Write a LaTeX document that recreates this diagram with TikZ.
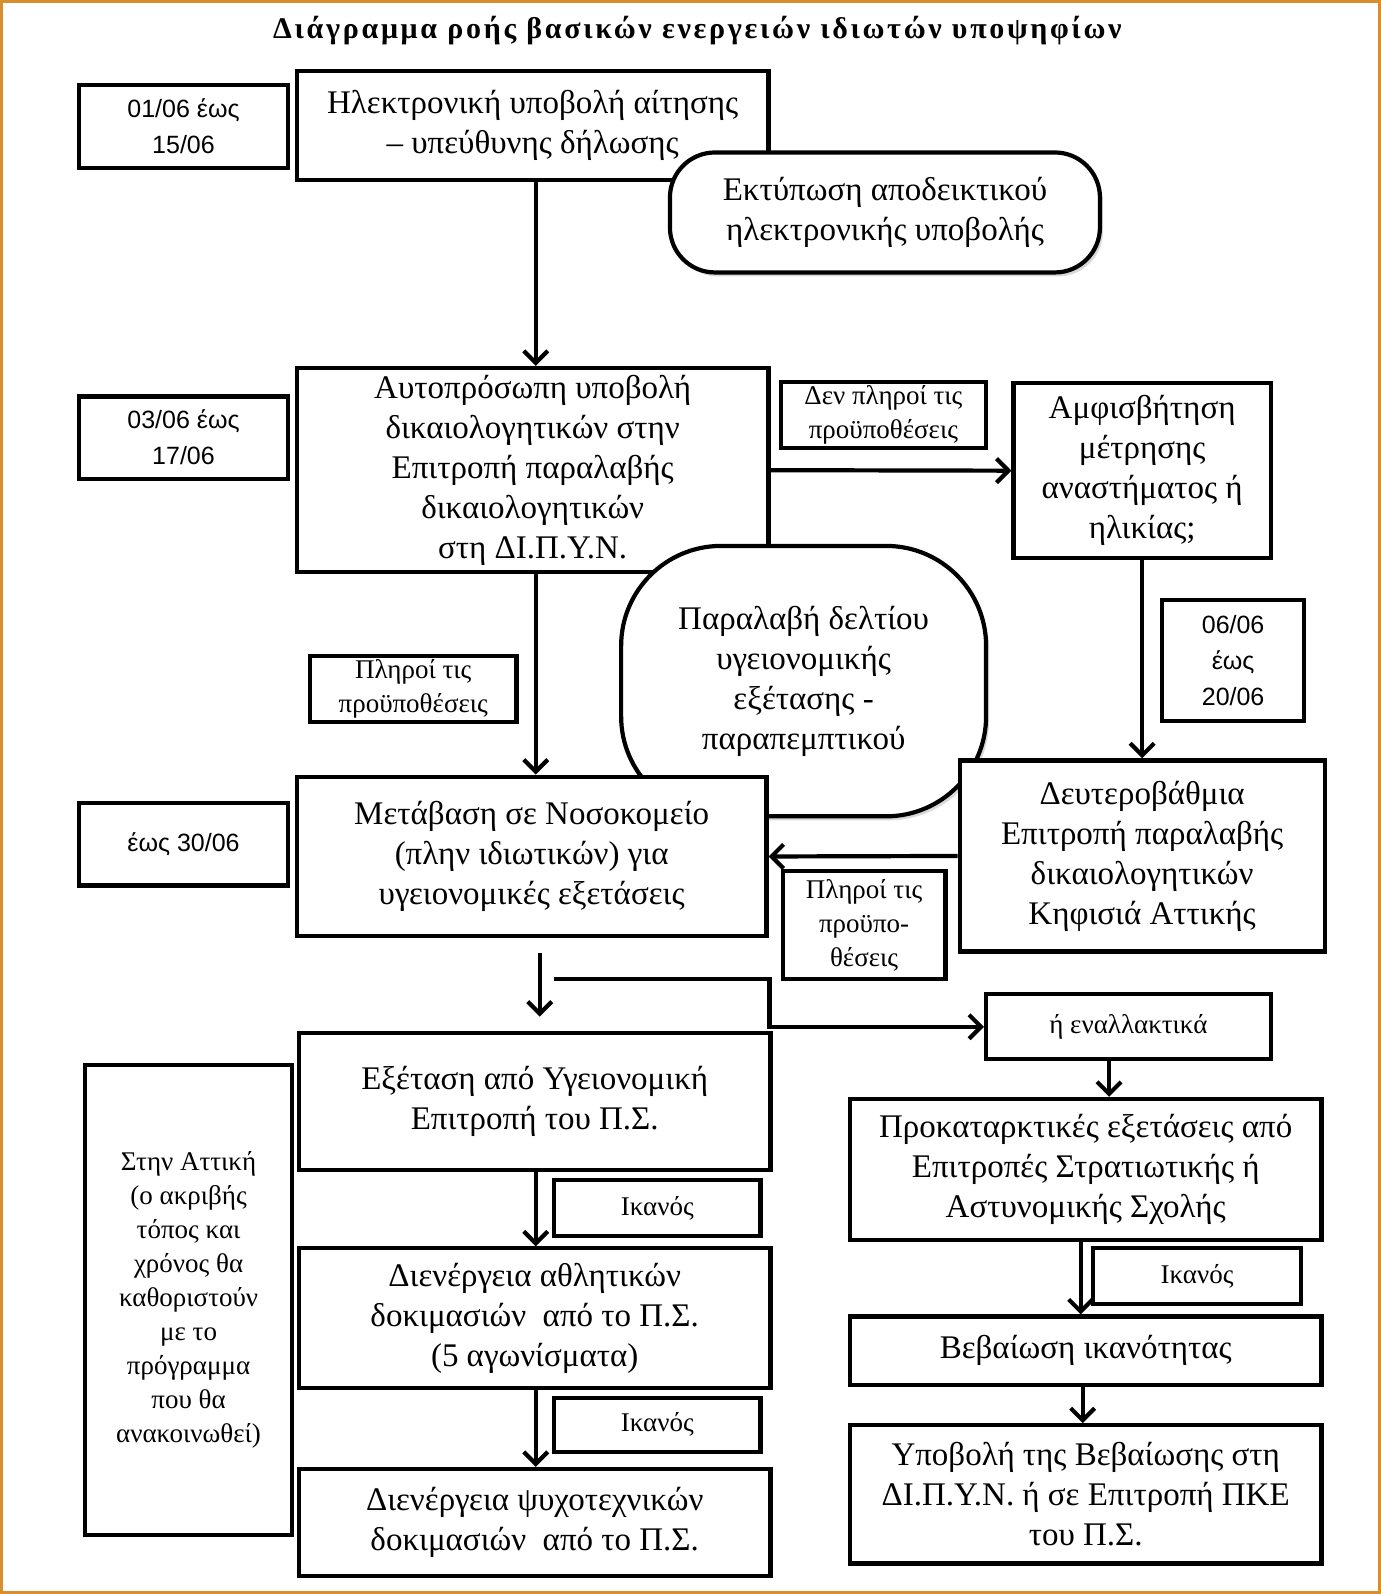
\documentclass[tikz,border=0pt]{standalone}
\usepackage{fontspec}
\setmainfont{Liberation Serif}
\newfontfamily\lsans{Liberation Sans}
\usetikzlibrary{arrows.meta,shadows}
\definecolor{frameor}{RGB}{216,142,44}
\newcommand\mainf{\fontsize{33}{40}\selectfont}
\newcommand\labf{\fontsize{27}{34}\selectfont}
\newcommand\datef{\lsans\fontsize{25}{36}\selectfont}
\newcommand\placebox[7]{%
  \pgfmathsetmacro\bw{(#5-#3)*1.0169}%
  \pgfmathsetmacro\bh{(#6-#4)*1.0169}%
  \node[#1, minimum width=\bw pt, minimum height=\bh pt] (#2) at ({(#3+#5)/2},{(#4+#6)/2}) {#7};}
\begin{document}
\begin{tikzpicture}[x=1.0169pt,y=-1.0169pt,
  bx/.style={draw, line width=4.2pt, fill=white, inner sep=0pt, align=center, font=\mainf},
  lb/.style={bx, font=\labf},
  dt/.style={bx, font=\datef},
  rbx/.style={bx, rounded corners=#1, drop shadow={shadow xshift=3pt,shadow yshift=-4pt,opacity=0.3}},
  arr/.style={line width=4.2pt, -{Straight Barb[length=12pt,width=24pt,line width=4.2pt]}},
  ln/.style={line width=4.2pt}]
\useasboundingbox (0,0) rectangle (1358,1568);
\draw[frameor, line width=3pt] (1.5,1.5) rectangle (1356.5,1566.5);

\node[font=\bfseries\fontsize{30}{34}\selectfont\addfontfeature{LetterSpace=9}] (title) at (686,30) {Διάγραμμα ροής βασικών ενεργειών ιδιωτών υποψηφίων};

% top row
\placebox{dt}{d1}{78}{84}{283}{165}{01/06 έως\\15/06}
\placebox{bx}{b1}{292}{70}{756}{177}{Ηλεκτρονική υποβολή αίτησης\\– υπεύθυνης δήλωσης}
\placebox{rbx=45pt}{r1}{659}{150}{1082}{268}{Εκτύπωση αποδεικτικού\\ηλεκτρονικής υποβολής}

% second row
\placebox{dt}{d2}{78}{390}{283}{471}{03/06 έως\\17/06}
\placebox{bx}{b2}{292}{362}{756}{563}{Αυτοπρόσωπη υποβολή\\δικαιολογητικών στην\\Επιτροπή παραλαβής\\δικαιολογητικών\\στη ΔΙ.Π.Υ.Ν.}
\placebox{lb}{l1}{768}{376}{970}{441}{Δεν πληροί τις\\προϋποθέσεις}
\placebox{bx}{b3}{997}{377}{1250}{549}{Αμφισβήτηση\\μέτρησης\\αναστήματος ή\\ηλικίας;}
\placebox{lb}{l2}{305}{645}{508}{710}{Πληροί τις\\προϋποθέσεις}
\placebox{dt}{d4}{1143}{590}{1283}{709}{06/06\\έως\\20/06}
\placebox{rbx=100pt}{r2}{611}{537}{970}{803}{Παραλαβή δελτίου\\υγειονομικής\\εξέτασης -\\παραπεμπτικού}

% third row
\placebox{bx}{b4}{292}{764}{754}{921}{Μετάβαση σε Νοσοκομείο\\(πλην ιδιωτικών) για\\υγειονομικές εξετάσεις}
\placebox{dt}{d3}{78}{790}{283}{871}{έως 30/06}
\placebox{bx}{b5}{944}{748}{1303}{936}{Δευτεροβάθμια\\Επιτροπή παραλαβής\\δικαιολογητικών\\Κηφισιά Αττικής}
\placebox{lb}{l3}{770}{857}{930}{963}{Πληροί τις\\προϋπο-\\θέσεις}

% right column bottom
\placebox{lb}{alt}{970}{978}{1250}{1042}{ή εναλλακτικά}
\placebox{bx}{b6}{836}{1081}{1300}{1220}{Προκαταρκτικές εξετάσεις από\\Επιτροπές Στρατιωτικής ή\\Αστυνομικής Σχολής}
\placebox{lb}{ik3}{1075}{1228}{1280}{1283}{Ικανός}
\placebox{bx}{b7}{836}{1295}{1300}{1362}{Βεβαίωση ικανότητας}
\placebox{bx}{b8}{836}{1402}{1300}{1538}{Υποβολή της Βεβαίωσης στη\\ΔΙ.Π.Υ.Ν. ή σε Επιτροπή ΠΚΕ\\του Π.Σ.}

% left column bottom
\placebox{bx}{b9}{294}{1016}{758}{1151}{Εξέταση από Υγειονομική\\Επιτροπή του Π.Σ.}
\placebox{lb}{ik1}{545}{1161}{748}{1216}{Ικανός}
\placebox{bx}{b10}{294}{1228}{758}{1365}{Διενέργεια αθλητικών\\δοκιμασιών \ από το Π.Σ.\\(5 αγωνίσματα)}
\placebox{lb}{ik2}{545}{1375}{748}{1428}{Ικανός}
\placebox{bx}{b11}{294}{1445}{758}{1550}{Διενέργεια ψυχοτεχνικών\\δοκιμασιών \ από το Π.Σ.}
\placebox{lb}{att}{84}{1048}{287}{1510}{Στην Αττική\\(ο ακριβής\\τόπος και\\χρόνος θα\\καθοριστούν\\με το\\πρόγραμμα\\που θα\\ανακοινωθεί)}

% helper coordinates
\coordinate (c527) at (527,0);
\coordinate (c1091) at (1091,0);
\coordinate (c1063) at (1063,0);
\coordinate (c1065) at (1065,0);
\coordinate (fa1) at (531,937);
\coordinate (fa2) at (531,1000);
\coordinate (p1) at (545,963);
\coordinate (p2) at (757,963);
\coordinate (p3) at (757,1010);

% connectors
\draw[arr] (c527 |- b1.south) -- (c527 |- b2.north);
\draw[arr] (b2.east) -- (b3.west);
\draw[arr] (c527 |- b2.south) -- (c527 |- b4.north);
\draw[arr] (b3.south) -- (b5.north);
\draw[arr] (b5.west) -- (b4.east);
\draw[arr] (fa1) -- (fa2);
\draw[arr] (p1) -- (p2) -- (p3) -- (alt.west);
\draw[arr] (c1091 |- alt.south) -- (c1091 |- b6.north);
\draw[arr] (c1063 |- b6.south) -- (c1063 |- b7.north);
\draw[arr] (c1065 |- b7.south) -- (c1065 |- b8.north);
\draw[arr] (c527 |- b9.south) -- (c527 |- b10.north);
\draw[arr] (c527 |- b10.south) -- (c527 |- b11.north);
\end{tikzpicture}
\end{document}
